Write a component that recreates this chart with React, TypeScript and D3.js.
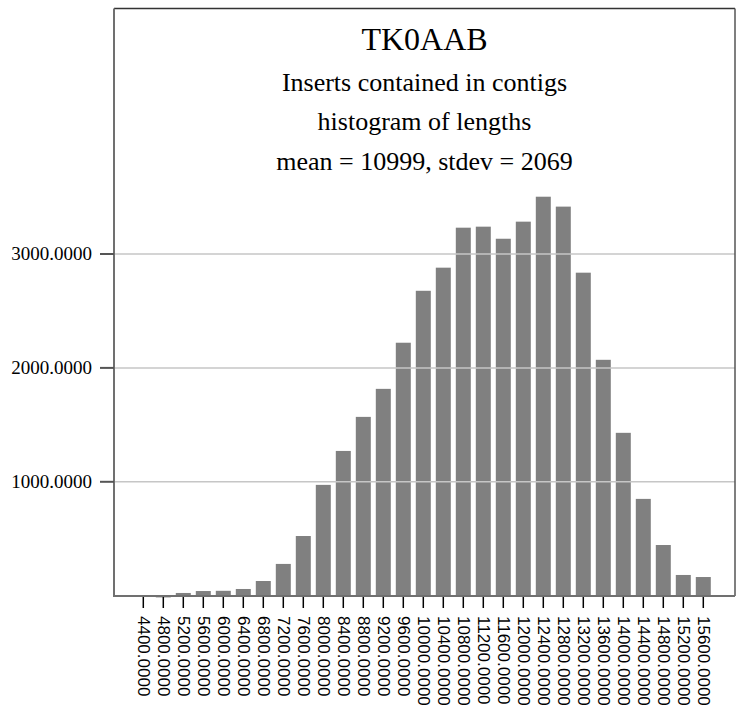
import React from "react";
import * as d3 from "d3";

// Histogram bins (lower bound of each length bin) and counts
const bins: number[] = [
  4400, 4800, 5200, 5600, 6000, 6400, 6800, 7200, 7600, 8000,
  8400, 8800, 9200, 9600, 10000, 10400, 10800, 11200, 11600, 12000,
  12400, 12800, 13200, 13600, 14000, 14400, 14800, 15200, 15600,
];
const counts: number[] = [
  0, -15, 24, 41, 43, 59, 129, 279, 524, 973,
  1271, 1570, 1816, 2221, 2677, 2880, 3231, 3240, 3134, 3284,
  3503, 3416, 2836, 2071, 1430, 850, 445, 182, 164,
];
const yTicks: number[] = [1000, 2000, 3000];

const titleLines: string[] = [
  "Inserts contained in contigs",
  "histogram of lengths",
  "mean = 10999, stdev = 2069",
];
const title = "TK0AAB";

const W = 740;
const H = 708;
const frame = { left: 114, right: 735, top: 8.5, bottom: 596 };

export default function App() {
  const x = d3.scaleLinear().domain([4400, 15600]).range([143.3, 703.3]);
  const y = d3.scaleLinear().domain([0, 3000]).range([595.7, 254]);
  const barW = 15;
  const fmt = (v: number) => v.toFixed(4);
  const cx = (frame.left + frame.right) / 2;

  return (
    <svg
      width={W}
      height={H}
      style={{ position: "absolute", left: 0, top: 0, background: "#fff" }}
    >
      <rect x={0} y={0} width={W} height={H} fill="#fff" />

      {/* bars */}
      {bins.map((b, i) => {
        const v = counts[i];
        const y0 = y(0);
        const y1 = y(v);
        return (
          <rect
            key={b}
            x={x(b) - barW / 2}
            y={Math.min(y0, y1)}
            width={barW}
            height={Math.abs(y0 - y1)}
            fill="#808080"
          />
        );
      })}

      {/* horizontal grid */}
      {yTicks.map((t) => (
        <line
          key={t}
          x1={frame.left}
          x2={frame.right}
          y1={y(t)}
          y2={y(t)}
          stroke="#c6c6c6"
          strokeWidth={1.5}
        />
      ))}

      {/* frame */}
      <line x1={frame.left} x2={frame.right} y1={frame.top} y2={frame.top} stroke="#333" strokeWidth={1.5} />
      <line x1={frame.right} x2={frame.right} y1={frame.top} y2={frame.bottom} stroke="#555" strokeWidth={1.5} />
      <line x1={frame.left} x2={frame.left} y1={frame.top} y2={frame.bottom + 1} stroke="#707070" strokeWidth={2} />
      <line x1={frame.left} x2={frame.right} y1={frame.bottom} y2={frame.bottom} stroke="#707070" strokeWidth={2} />

      {/* y ticks and labels */}
      {yTicks.map((t) => (
        <g key={t}>
          <line x1={100} x2={frame.left} y1={y(t)} y2={y(t)} stroke="#555" strokeWidth={2} />
          <text
            x={92}
            y={y(t) + 6}
            textAnchor="end"
            fontFamily="Liberation Serif"
            fontSize={19}
            fill="#000"
          >
            {fmt(t)}
          </text>
        </g>
      ))}

      {/* x ticks and rotated labels */}
      {bins.map((b) => (
        <g key={b}>
          <line x1={x(b)} x2={x(b)} y1={597} y2={608} stroke="#000" strokeWidth={1.5} />
          <text
            transform={`translate(${x(b) - 5.6},616) rotate(90)`}
            textAnchor="start"
            fontFamily="Liberation Sans"
            fontSize={17}
            fill="#000"
          >
            {fmt(b)}
          </text>
        </g>
      ))}

      {/* titles */}
      <text x={cx} y={50} textAnchor="middle" fontFamily="Liberation Serif" fontSize={32} fill="#000">
        {title}
      </text>
      {titleLines.map((s, i) => (
        <text
          key={s}
          x={cx}
          y={90.5 + i * 39.5}
          textAnchor="middle"
          fontFamily="Liberation Serif"
          fontSize={26}
          fill="#000"
        >
          {s}
        </text>
      ))}
    </svg>
  );
}
